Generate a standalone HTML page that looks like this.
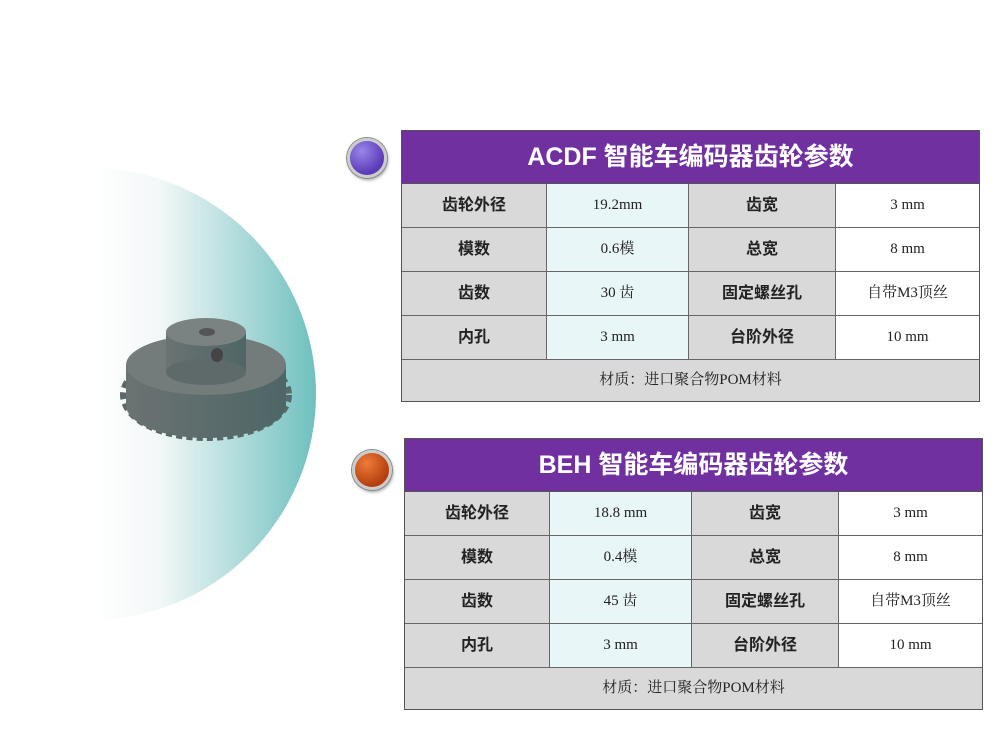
<!DOCTYPE html>
<html><head><meta charset="utf-8"><style>
body{margin:0;width:1004px;height:753px;background:#fff;position:relative;overflow:hidden;font-family:"Liberation Serif","Noto Serif CJK SC",serif}
.t{position:absolute;width:579px;height:272px;border:1px solid #555;box-sizing:border-box}
.c{position:absolute;box-sizing:border-box;border-right:1px solid #666;border-bottom:1px solid #666;text-align:center;font-size:15px;color:#222;line-height:43px;height:44px}
.h{position:absolute;left:0;top:0;width:100%;height:53px;line-height:53px;background:#7030a0;color:#fff;text-align:center;font-family:"Liberation Sans","Noto Sans CJK SC",sans-serif;font-weight:bold;font-size:25px;border-bottom:1px solid #555;box-sizing:border-box}
.g{background:#d9d9d9;font-family:"Liberation Sans","Noto Sans CJK SC",sans-serif;font-weight:bold;font-size:16px}
.b{background:#e9f6f7}
.w{background:#fff}
.f{background:#d9d9d9;border-right:none;border-bottom:none}
.dot{position:absolute;border-radius:50%;border:3px solid #ccc;box-shadow:0 0 0 1px #888,1px 2px 3px #999}
</style></head><body>
<svg style="position:absolute;left:0;top:0" width="1004" height="753">
<defs>
<linearGradient id="tg" x1="0" x2="1"><stop offset="0" stop-color="#fff"/><stop offset="0.3" stop-color="#f4f8f8"/><stop offset="1" stop-color="#6fc0bf"/></linearGradient>
<linearGradient id="gg" x1="0" x2="1"><stop offset="0" stop-color="#6b7272"/><stop offset="1" stop-color="#4e6666"/></linearGradient>
</defs>
<path d="M100 168 L90 168 A226 226 0 0 1 90 620 L100 620 Z" fill="url(#tg)"/>
<ellipse cx="206" cy="395" rx="80" ry="40" fill="none" stroke="#5a6868" stroke-width="12" stroke-dasharray="6 4"/>
<rect x="126" y="365" width="160" height="40" fill="url(#gg)"/>
<ellipse cx="206" cy="405" rx="80" ry="33" fill="url(#gg)"/>
<ellipse cx="206" cy="365" rx="80" ry="30" fill="#737b7b"/>
<rect x="166" y="332" width="80" height="40" fill="url(#gg)"/>
<ellipse cx="206" cy="372" rx="40" ry="13" fill="#5e6a6a"/>
<ellipse cx="206" cy="332" rx="40" ry="14" fill="#7a8282"/>
<ellipse cx="207" cy="332" rx="8" ry="4" fill="#555"/>
<ellipse cx="217" cy="355" rx="6" ry="7" fill="#444"/>
</svg>
<div class="dot" style="left:347px;top:138px;width:34px;height:34px;background:radial-gradient(circle at 35% 30%,#9a86e8,#5a3ab8 70%)"></div>
<div class="dot" style="left:352px;top:450px;width:34px;height:34px;background:radial-gradient(circle at 35% 30%,#f07a3a,#b3400e 70%)"></div>

<div class="t" style="left:401px;top:130px">
<div class="h">ACDF 智能车编码器齿轮参数</div>
<div class="c g" style="left:0;top:53px;width:145px">齿轮外径</div><div class="c b" style="left:145px;top:53px;width:142px">19.2mm</div><div class="c g" style="left:287px;top:53px;width:147px">齿宽</div><div class="c w" style="left:434px;top:53px;width:143px;border-right:none">3 mm</div>
<div class="c g" style="left:0;top:97px;width:145px">模数</div><div class="c b" style="left:145px;top:97px;width:142px">0.6模</div><div class="c g" style="left:287px;top:97px;width:147px">总宽</div><div class="c w" style="left:434px;top:97px;width:143px;border-right:none">8 mm</div>
<div class="c g" style="left:0;top:141px;width:145px">齿数</div><div class="c b" style="left:145px;top:141px;width:142px">30 齿</div><div class="c g" style="left:287px;top:141px;width:147px">固定螺丝孔</div><div class="c w" style="left:434px;top:141px;width:143px;border-right:none">自带M3顶丝</div>
<div class="c g" style="left:0;top:185px;width:145px">内孔</div><div class="c b" style="left:145px;top:185px;width:142px">3 mm</div><div class="c g" style="left:287px;top:185px;width:147px">台阶外径</div><div class="c w" style="left:434px;top:185px;width:143px;border-right:none">10 mm</div>
<div class="c f" style="left:0;top:229px;width:577px;height:41px;line-height:41px">材质：进口聚合物POM材料</div>
</div>

<div class="t" style="left:404px;top:438px">
<div class="h">BEH 智能车编码器齿轮参数</div>
<div class="c g" style="left:0;top:53px;width:145px">齿轮外径</div><div class="c b" style="left:145px;top:53px;width:142px">18.8 mm</div><div class="c g" style="left:287px;top:53px;width:147px">齿宽</div><div class="c w" style="left:434px;top:53px;width:143px;border-right:none">3 mm</div>
<div class="c g" style="left:0;top:97px;width:145px">模数</div><div class="c b" style="left:145px;top:97px;width:142px">0.4模</div><div class="c g" style="left:287px;top:97px;width:147px">总宽</div><div class="c w" style="left:434px;top:97px;width:143px;border-right:none">8 mm</div>
<div class="c g" style="left:0;top:141px;width:145px">齿数</div><div class="c b" style="left:145px;top:141px;width:142px">45 齿</div><div class="c g" style="left:287px;top:141px;width:147px">固定螺丝孔</div><div class="c w" style="left:434px;top:141px;width:143px;border-right:none">自带M3顶丝</div>
<div class="c g" style="left:0;top:185px;width:145px">内孔</div><div class="c b" style="left:145px;top:185px;width:142px">3 mm</div><div class="c g" style="left:287px;top:185px;width:147px">台阶外径</div><div class="c w" style="left:434px;top:185px;width:143px;border-right:none">10 mm</div>
<div class="c f" style="left:0;top:229px;width:577px;height:41px;line-height:41px">材质：进口聚合物POM材料</div>
</div>
</body></html>
